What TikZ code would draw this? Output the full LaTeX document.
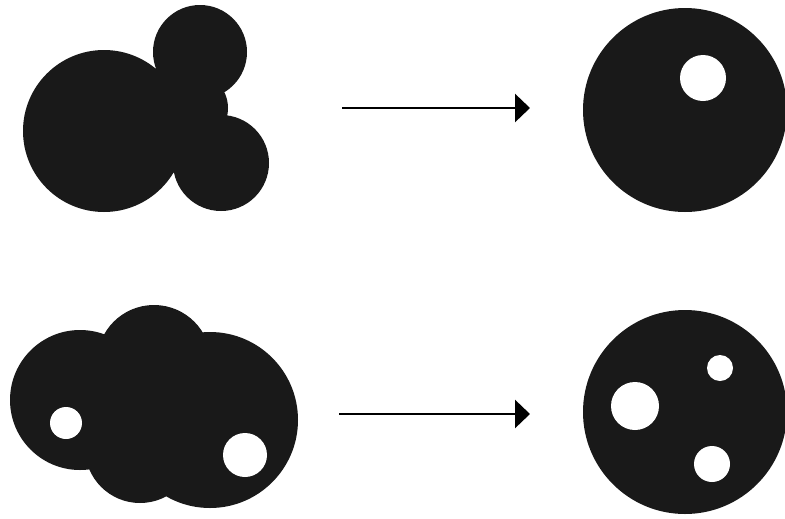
\documentclass[tikz,border=0pt]{standalone}
\usetikzlibrary{arrows.meta}
\begin{document}
\begin{tikzpicture}[x=0.02cm, y=-0.02cm,
    blob/.style={fill=black!90},
    hole/.style={fill=white},
    flow/.style={-{Triangle[length=0.3cm, width=0.56cm]}, line width=1.6pt}
  ]
  \useasboundingbox (0,0) rectangle (785,518);

  % top row: three bubbles merge into one disk
  \fill[blob] (104,131) circle[radius=81] (200,52) circle[radius=47]
    (192,108) circle[radius=36] (221,163) circle[radius=48];
  \fill[blob] (685,110) circle[radius=102];
  \fill[hole] (703,78) circle[radius=23];

  \coordinate (in1) at (342,108);
  \coordinate (out1) at (530,108);
  \draw[flow] (in1) -- (out1);

  % bottom row: four bubbles with holes merge into one disk
  \fill[blob] (80,400) circle[radius=70] (154,362) circle[radius=57]
    (210,420) circle[radius=88] (140,448) circle[radius=55];
  \fill[hole] (66,423) circle[radius=16] (245,455) circle[radius=22];
  \fill[blob] (685,412) circle[radius=102];
  \fill[hole] (635,406) circle[radius=24] (720,368) circle[radius=13]
    (712,464) circle[radius=18];

  \coordinate (in2) at (339,414);
  \coordinate (out2) at (530,414);
  \draw[flow] (in2) -- (out2);
\end{tikzpicture}
\end{document}
